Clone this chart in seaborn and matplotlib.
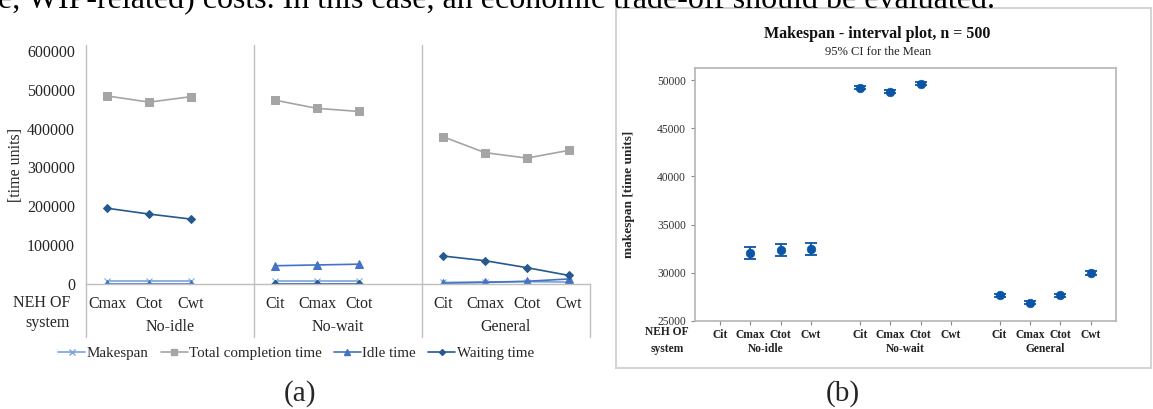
# Recreation of the two-panel NEH comparison figure: (a) line chart, (b) interval plot

import matplotlib.pyplot as plt
import matplotlib.patches as mpatches
import numpy as np
import pandas as pd
import seaborn as sns

# ---- data for panel (a) ----
systems = ['No-idle', 'No-wait', 'General']
a_objectives = {
    'No-idle': ['Cmax', 'Ctot', 'Cwt'],
    'No-wait': ['Cit', 'Cmax', 'Ctot'],
    'General': ['Cit', 'Cmax', 'Ctot', 'Cwt'],
}
makespan_a = {'No-idle': [7000, 7000, 7000], 'No-wait': [9000, 9000, 9000], 'General': [4000, 5500, 6000, 5000]}
total_completion_a = {'No-idle': [484000, 468000, 482000], 'No-wait': [473000, 452000, 444000], 'General': [379000, 338000, 324000, 344000]}
idle_time_a = {'No-idle': [0, 0, 0], 'No-wait': [47000, 49000, 51000], 'General': [2000, 4000, 7000, 13000]}
waiting_time_a = {'No-idle': [195000, 180000, 167000], 'No-wait': [0, 0, 0], 'General': [72000, 60000, 42000, 22000]}
yticks_a = [0, 100000, 200000, 300000, 400000, 500000, 600000]

# ---- data for panel (b) ----
b_objectives = ['Cit', 'Cmax', 'Ctot', 'Cwt']
b_means = {'No-idle': [np.nan, 32030, 32310, 32440], 'No-wait': [49230, 48820, 49650, np.nan], 'General': [27650, 26870, 27650, 29920]}
b_half_ci = {'No-idle': [np.nan, 650, 620, 620], 'No-wait': [150, 130, 150, np.nan], 'General': [150, 130, 150, 200]}
yticks_b = [25000, 30000, 35000, 40000, 45000, 50000]

sns.set_style('white')
plt.rcParams['font.family'] = ['Liberation Serif', 'DejaVu Serif']

W, H = 1153, 409
fig = plt.figure(figsize=(W / 100, H / 100), dpi=100)

# top line of the surrounding page text (cut off by the crop)
fig.text(-0.002, 1 - 8 / H, 'e, WIP-related) costs. In this case, an economic trade-off should be evaluated.',
         fontsize=23, va='baseline', ha='left', color='black')

# ================= panel (a) =================
ax1 = fig.add_axes([86 / W, 1 - 284 / H, (590 - 86) / W, (284 - 45) / H])
series = [('Makespan', makespan_a), ('Total completion time', total_completion_a),
          ('Idle time', idle_time_a), ('Waiting time', waiting_time_a)]
rows = []
for gi, g in enumerate(systems):
    for ci, obj in enumerate(a_objectives[g]):
        for name, vals in series:
            rows.append({'slot': gi * 4 + ci, 'system': g, 'objective': obj, 'series': name, 'value': vals[g][ci]})
df_a = pd.DataFrame(rows)

palette = {'Makespan': '#7ba3d8', 'Total completion time': '#a5a5a5',
           'Idle time': '#4472c4', 'Waiting time': '#25598f'}
markers = {'Makespan': 'x', 'Total completion time': 's', 'Idle time': '^', 'Waiting time': 'D'}
sizes = {'Makespan': 5, 'Total completion time': 6, 'Idle time': 6, 'Waiting time': 4}

for name, _ in series:
    sub = df_a[df_a['series'] == name]
    sns.lineplot(data=sub, x='slot', y='value', units='system', estimator=None,
                 color=palette[name], marker=markers[name], markersize=sizes[name],
                 markeredgecolor=palette[name], linewidth=1.2, ax=ax1, legend=False)

ax1.set_xlim(-0.5, 11.5)
ax1.set_ylim(0, 615000)
ax1.set_yticks(yticks_a)
ax1.set_yticklabels([str(t) for t in yticks_a], fontsize=11.5)
ax1.tick_params(axis='y', length=0, pad=8)
ax1.set_xticks(df_a['slot'].unique())
ax1.set_xticklabels([obj for g in systems for obj in a_objectives[g]], fontsize=11.5)
ax1.tick_params(axis='x', length=0, pad=9)
ax1.set_xlabel('')
ax1.set_ylabel('[time units]', fontsize=11.5, labelpad=2)
for s in ['top', 'right', 'left']:
    ax1.spines[s].set_visible(False)
ax1.spines['bottom'].set_color('#bfbfbf')
ax1.spines['bottom'].set_linewidth(1.0)

low = (284 - 337) / (284 - 45)
for xb in [-0.5, 3.5, 7.5]:
    ax1.plot([xb, xb], [low, 1], transform=ax1.get_xaxis_transform(), color='#bfbfbf', lw=1.0, clip_on=False)
ax1.plot([11.5, 11.5], [low, 0], transform=ax1.get_xaxis_transform(), color='#bfbfbf', lw=1.0, clip_on=False)
for gi, g in enumerate(systems):
    ax1.text(gi * 4 + 1.5 if g != 'General' else 9.5, (284 - 327) / (284 - 45), g,
             transform=ax1.get_xaxis_transform(), ha='center', va='center', fontsize=11.5)
fig.text(70 / W, 1 - 313 / H, 'NEH OF\nsystem', ha='right', va='center', multialignment='right',
         fontsize=11.5, linespacing=1.35)

handles = [plt.Line2D([], [], color=palette[n], marker=markers[n], markersize=sizes[n] - 1, lw=1.2) for n, _ in series]
fig.legend(handles, [n for n, _ in series], loc='center', bbox_to_anchor=(296 / W, 1 - 353 / H), ncol=4,
           frameon=False, fontsize=10.8, handlelength=1.8, handletextpad=0.1, columnspacing=0.8)
fig.text(300 / W, 1 - 394 / H, '(a)', ha='center', va='center', fontsize=21)

# ================= panel (b) =================
fig.patches.append(mpatches.Rectangle((616 / W, 1 - 368 / H), (1151 - 616) / W, (368 - 8) / H,
                                      transform=fig.transFigure, fill=False, edgecolor='#d4d4d4', lw=1.5))
ax2 = fig.add_axes([695 / W, 1 - 320.7 / H, (1116 - 695) / W, (320.7 - 68) / H])
rows = []
for gi, g in enumerate(systems):
    for ci, obj in enumerate(b_objectives):
        rows.append({'pos': gi * 4.6 + ci, 'system': g, 'objective': obj,
                     'mean': b_means[g][ci], 'half': b_half_ci[g][ci]})
df_b = pd.DataFrame(rows)
ok = df_b.dropna()
blue = '#0a55a5'
ax2.errorbar(ok['pos'], ok['mean'], yerr=ok['half'], fmt='none', ecolor=blue, elinewidth=1.3, capsize=4, capthick=1.3)
sns.scatterplot(data=ok, x='pos', y='mean', color=blue, s=38, edgecolor=blue, ax=ax2, legend=False, zorder=3)

ax2.set_xlim(-0.82, 13.03)
ax2.set_ylim(25000, 51280)
ax2.set_yticks(yticks_b)
ax2.set_yticklabels([str(t) for t in yticks_b], fontsize=8.3, color='#333333')
ax2.set_xticks(df_b['pos'])
ax2.set_xticklabels(df_b['objective'], fontsize=8.3, fontweight='bold', color='#222222')
ax2.tick_params(axis='both', direction='out', length=3, width=0.8, color='#888888', bottom=True, left=True)
ax2.tick_params(axis='x', pad=3)
ax2.set_xlabel('')
ax2.set_ylabel('makespan [time units]', fontsize=9.6, fontweight='bold', labelpad=16)
for s in ax2.spines.values():
    s.set_color('#b5b5b5')
    s.set_linewidth(1.2)
fig.text(877 / W, 1 - 34 / H, 'Makespan - interval plot, n = 500', ha='center', va='center',
         fontsize=11.5, fontweight='bold', color='#111111')
fig.text(878 / W, 1 - 52 / H, '95% CI for the Mean', ha='center', va='center', fontsize=9, color='#222222')
fig.text(667 / W, 1 - 332 / H, 'NEH OF', ha='center', va='center', fontsize=8.3, fontweight='bold', color='#222222')
fig.text(667 / W, 1 - 349 / H, 'system', ha='center', va='center', fontsize=8.3, fontweight='bold', color='#222222')
for gi, g in enumerate(systems):
    ax2.text(gi * 4.6 + 1.5, (320.7 - 349) / (320.7 - 68), g, transform=ax2.get_xaxis_transform(),
             ha='center', va='center', fontsize=8.3, fontweight='bold', color='#222222')
fig.text(843 / W, 1 - 394 / H, '(b)', ha='center', va='center', fontsize=21)

fig.savefig('out.png', dpi=100)
